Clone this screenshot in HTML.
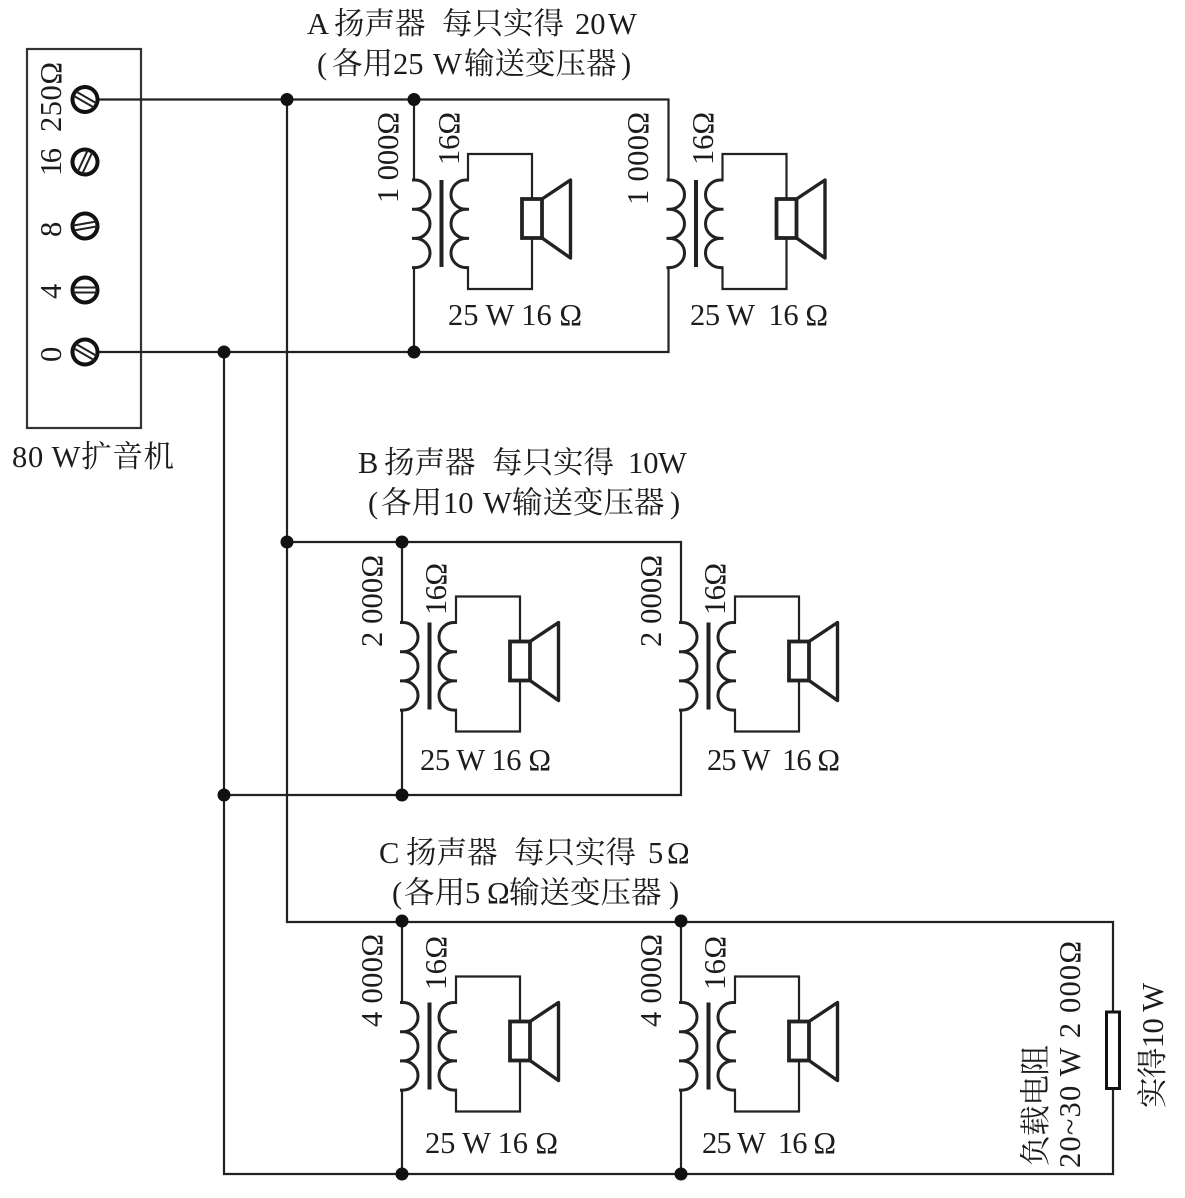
<!DOCTYPE html>
<html>
<head>
<meta charset="utf-8">
<style>
html,body{margin:0;padding:0;background:#fff;}
svg{display:block;}
text{font-family:"Liberation Serif","Noto Serif CJK SC",serif;font-size:30.5px;fill:#1c1c1c;white-space:pre;}
.w{fill:none;stroke:#222;stroke-width:2.2;}
</style>
</head>
<body>
<svg width="1185" height="1198" viewBox="0 0 1185 1198" xmlns="http://www.w3.org/2000/svg">
<defs>
<g id="unit" fill="none" stroke="#222" stroke-width="2.2">
  <path d="M412 180h3a15 14.6 0 0 1 0 29.2h-3h3a15 14.6 0 0 1 0 29.2h-3h3a15 14.6 0 0 1 0 29.2h-3" stroke-width="3"/>
  <path d="M441.5 180V267" stroke-width="4"/>
  <path d="M469 180h-3a15 14.6 0 0 0 0 29.2h3h-3a15 14.6 0 0 0 0 29.2h3h-3a15 14.6 0 0 0 0 29.2h3" stroke-width="3"/>
  <path d="M468 180V154H532V199M532 238V289H468V267"/>
  <rect x="522" y="199" width="20" height="39" stroke-width="3.8" fill="#fff"/>
  <path d="M542 199L570.5 180V258L542 238" stroke-width="3.4" stroke-linejoin="round"/>
</g>
<g id="screw">
  <circle r="12.5" fill="#fff" stroke="#111" stroke-width="4"/>
  <path d="M-12 -2.5H12M-12 2.5H12" stroke="#222" stroke-width="2" fill="none"/>
</g>
</defs>

<rect x="27" y="49" width="114" height="379" fill="none" stroke="#333" stroke-width="2.2"/>

<path class="w" d="M85 99.5H668.5V180M668.5 267V352H85"/>
<path class="w" d="M414 99.5V180M414 267V352"/>
<path class="w" d="M287 99.5V922H1113V1012M1113 1088V1174H224V352"/>
<path class="w" d="M287 542H681V622M681 710V795H224"/>
<path class="w" d="M402 542V622M402 710V795"/>
<path class="w" d="M402 922V1003M402 1090V1174"/>
<path class="w" d="M681 922V1003M681 1090V1174"/>

<use href="#unit"/>
<use href="#unit" x="254.5"/>
<use href="#unit" x="-12" y="442.5"/>
<use href="#unit" x="267" y="442.5"/>
<use href="#unit" x="-12" y="822.5"/>
<use href="#unit" x="267" y="822.5"/>

<rect x="1106.5" y="1012" width="13" height="76.5" fill="#fff" stroke="#111" stroke-width="3"/>

<use href="#screw" transform="translate(85 99.5) rotate(30)"/>
<use href="#screw" transform="translate(85 162) rotate(-65)"/>
<use href="#screw" transform="translate(85 226) rotate(-10)"/>
<use href="#screw" transform="translate(85 290)"/>
<use href="#screw" transform="translate(85 352) rotate(30)"/>

<g fill="#111">
<circle cx="287" cy="99.5" r="6.5"/><circle cx="414" cy="99.5" r="6.5"/>
<circle cx="414" cy="352" r="6.5"/><circle cx="224" cy="352" r="6.5"/>
<circle cx="287" cy="542" r="6.5"/><circle cx="402" cy="542" r="6.5"/>
<circle cx="402" cy="795" r="6.5"/><circle cx="224" cy="795" r="6.5"/>
<circle cx="402" cy="921" r="6.5"/><circle cx="681" cy="921" r="6.5"/>
<circle cx="402" cy="1174" r="6.5"/><circle cx="681" cy="1174" r="6.5"/>
</g>

<text transform="translate(61 132) rotate(-90)" textLength="70">250Ω</text>
<text transform="translate(61 176) rotate(-90)" textLength="28">16</text>
<text transform="translate(61 237) rotate(-90)">8</text>
<text transform="translate(61 299) rotate(-90)">4</text>
<text transform="translate(61 362) rotate(-90)">0</text>
<text x="12" y="467" textLength="162">80 W扩音机</text>

<text y="34"><tspan x="307">A</tspan><tspan x="334">扬声器 </tspan><tspan x="442">每只实得 </tspan><tspan x="575">20 </tspan><tspan x="608">W</tspan></text>
<text y="74"><tspan x="317">(</tspan><tspan x="332">各用</tspan><tspan x="393">25 </tspan><tspan x="433">W</tspan><tspan x="464">输送变压器</tspan><tspan x="621">)</tspan></text>
<text transform="translate(398 203) rotate(-90)" textLength="91">1 000Ω</text>
<text transform="translate(459 165) rotate(-90)" textLength="53">16Ω</text>
<text x="448" y="325" textLength="134">25 W 16 Ω</text>
<text transform="translate(648 205) rotate(-90)" textLength="93">1 000Ω</text>
<text transform="translate(713 165) rotate(-90)" textLength="53">16Ω</text>
<text x="690" y="325" textLength="138">25 W  16 Ω</text>

<text y="473"><tspan x="358">B</tspan><tspan x="384">扬声器 </tspan><tspan x="492">每只实得 </tspan><tspan x="628">10 </tspan><tspan x="658">W</tspan></text>
<text y="513"><tspan x="368">(</tspan><tspan x="381">各用</tspan><tspan x="443">10 </tspan><tspan x="483">W</tspan><tspan x="512">输送变压器</tspan><tspan x="670">)</tspan></text>
<text transform="translate(382 647) rotate(-90)" textLength="92">2 000Ω</text>
<text transform="translate(446 615) rotate(-90)" textLength="52">16Ω</text>
<text x="420" y="770" textLength="131">25 W 16 Ω</text>
<text transform="translate(661 647) rotate(-90)" textLength="92">2 000Ω</text>
<text transform="translate(725 615) rotate(-90)" textLength="52">16Ω</text>
<text x="707" y="770" textLength="133">25 W  16 Ω</text>

<text y="863"><tspan x="379">C</tspan><tspan x="406">扬声器 </tspan><tspan x="514">每只实得 </tspan><tspan x="648">5 </tspan><tspan x="667">Ω</tspan></text>
<text y="903"><tspan x="392">(</tspan><tspan x="404">各用</tspan><tspan x="465">5 </tspan><tspan x="487">Ω</tspan><tspan x="509">输送变压器</tspan><tspan x="669">)</tspan></text>
<text transform="translate(382 1027) rotate(-90)" textLength="93">4 000Ω</text>
<text transform="translate(446 990) rotate(-90)" textLength="54">16Ω</text>
<text x="425" y="1153" textLength="133">25 W 16 Ω</text>
<text transform="translate(661 1027) rotate(-90)" textLength="93">4 000Ω</text>
<text transform="translate(725 990) rotate(-90)" textLength="54">16Ω</text>
<text x="702" y="1153" textLength="134">25 W  16 Ω</text>

<text transform="translate(1046 1166) rotate(-90)" textLength="121">负载电阻</text>
<text transform="translate(1080 1168) rotate(-90)" textLength="227">20~30 W 2 000Ω</text>
<text transform="translate(1163 1108) rotate(-90)" textLength="125">实得10 W</text>
</svg>
</body>
</html>
